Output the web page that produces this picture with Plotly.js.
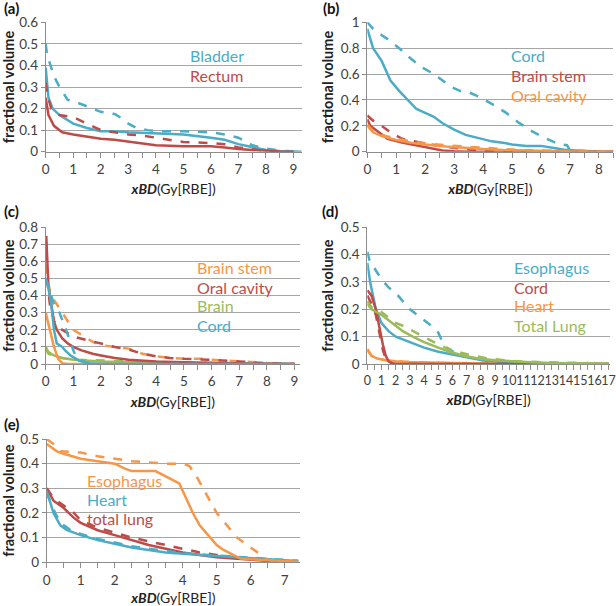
<!DOCTYPE html>
<html>
<head>
<meta charset="utf-8">
<script src="https://cdn.plot.ly/plotly-3.0.1.min.js"></script>
<style>html,body{margin:0;padding:0;background:#fff}#chart{width:616px;height:606px}</style>
</head>
<body>
<div id="chart"></div>
<script>
// ---------- Panel (a) ----------
const a_bladder_solid_x = [0, 0.05, 0.1, 0.25, 0.5, 1, 1.5, 2, 2.5, 3, 4, 5, 6, 6.5, 7, 7.5, 8, 8.5, 9, 9.3];
const a_bladder_solid_y = [0.39, 0.3, 0.25, 0.2, 0.17, 0.13, 0.11, 0.095, 0.095, 0.09, 0.085, 0.08, 0.065, 0.055, 0.035, 0.02, 0.008, 0.003, 0.001, 0];
const a_bladder_dash_x = [0, 0.05, 0.3, 0.5, 0.8, 1, 1.3, 1.7, 2, 2.5, 2.7, 3, 3.3, 3.7, 4, 5, 6, 6.5, 7, 7.5, 8, 8.5, 9, 9.3];
const a_bladder_dash_y = [0.5, 0.45, 0.35, 0.3, 0.24, 0.235, 0.22, 0.2, 0.185, 0.175, 0.16, 0.13, 0.11, 0.1, 0.095, 0.095, 0.09, 0.08, 0.065, 0.03, 0.015, 0.005, 0.001, 0];
const a_rectum_solid_x = [0, 0.1, 0.3, 0.6, 1, 1.5, 2, 2.5, 2.8, 3.2, 3.5, 4, 5, 6, 6.5, 7, 7.5, 8, 8.5, 9];
const a_rectum_solid_y = [0.25, 0.17, 0.12, 0.09, 0.08, 0.07, 0.06, 0.055, 0.05, 0.04, 0.035, 0.03, 0.025, 0.025, 0.02, 0.012, 0.008, 0.003, 0.001, 0];
const a_rectum_dash_x = [0, 0.05, 0.2, 0.5, 1, 1.5, 2, 2.5, 3, 3.5, 4, 4.5, 5, 6, 6.5, 7, 7.5, 8, 8.5];
const a_rectum_dash_y = [0.32, 0.27, 0.2, 0.17, 0.16, 0.13, 0.1, 0.09, 0.08, 0.075, 0.065, 0.055, 0.045, 0.04, 0.035, 0.02, 0.01, 0.003, 0];

// ---------- Panel (b) ----------
const b_cord_solid_x = [0, 0.2, 0.5, 0.8, 1.1, 1.4, 1.7, 2, 2.3, 2.6, 3, 3.4, 3.9, 4.3, 4.8, 5, 5.5, 6, 6.4, 6.8, 7.2, 7.5, 8, 8.5];
const b_cord_solid_y = [0.95, 0.8, 0.7, 0.55, 0.47, 0.4, 0.33, 0.3, 0.27, 0.22, 0.17, 0.13, 0.1, 0.08, 0.065, 0.055, 0.045, 0.045, 0.03, 0.015, 0.01, 0.005, 0.001, 0];
const b_cord_dash_x = [0, 0.2, 0.5, 0.7, 1.1, 1.5, 1.9, 2.3, 2.6, 2.9, 3.2, 3.5, 3.9, 4.3, 4.8, 5.2, 5.6, 6, 6.4, 6.6, 6.9, 7, 7.5, 8];
const b_cord_dash_y = [1.0, 0.95, 0.9, 0.87, 0.8, 0.72, 0.65, 0.6, 0.55, 0.5, 0.47, 0.46, 0.42, 0.37, 0.3, 0.23, 0.17, 0.12, 0.08, 0.06, 0.05, 0.01, 0.005, 0];
const b_stem_solid_x = [0, 0.1, 0.4, 0.7, 1.2, 1.7, 2.2, 2.6, 3, 3.5, 8.5];
const b_stem_solid_y = [0.25, 0.2, 0.15, 0.1, 0.07, 0.05, 0.03, 0.01, 0.003, 0, 0];
const b_stem_dash_x = [0, 0.2, 0.5, 0.8, 1.2, 1.6, 2.1, 2.6, 3.1, 3.6, 4, 4.5, 5, 8.5];
const b_stem_dash_y = [0.28, 0.24, 0.2, 0.15, 0.1, 0.08, 0.06, 0.04, 0.025, 0.015, 0.008, 0.003, 0, 0];
const b_oral_solid_x = [0, 0.2, 0.5, 1, 1.5, 2, 2.7, 3.3, 4, 4.7, 5.5, 6.2, 7, 8, 8.5];
const b_oral_solid_y = [0.2, 0.15, 0.12, 0.09, 0.07, 0.055, 0.04, 0.03, 0.02, 0.013, 0.008, 0.004, 0.002, 0, 0];
const b_oral_dash_x = [0, 0.2, 0.5, 1, 1.5, 2, 2.7, 3.3, 4, 4.7, 5.5, 6.3, 7.2, 8, 8.5];
const b_oral_dash_y = [0.21, 0.16, 0.13, 0.1, 0.08, 0.065, 0.05, 0.04, 0.03, 0.02, 0.012, 0.006, 0.003, 0, 0];

// ---------- Panel (c) ----------
const c_stem_solid_x = [0, 0.15, 0.3, 0.45, 0.6, 0.8, 9];
const c_stem_solid_y = [0.3, 0.2, 0.1, 0.03, 0.005, 0, 0];
const c_stem_dash_x = [0, 0.05, 0.2, 0.4, 0.6, 0.8, 1, 1.3, 1.7, 2, 2.5, 3, 3.2, 3.5, 4, 4.5, 5, 5.7, 6, 6.5, 7.5, 8.3, 9];
const c_stem_dash_y = [0.58, 0.5, 0.4, 0.35, 0.3, 0.25, 0.2, 0.17, 0.13, 0.11, 0.1, 0.09, 0.08, 0.06, 0.045, 0.035, 0.03, 0.03, 0.025, 0.02, 0.01, 0.003, 0];
const c_oral_solid_x = [0.02, 0.1, 0.2, 0.3, 0.4, 0.6, 0.8, 1, 1.3, 1.7, 2, 2.5, 3, 3.5, 4, 5, 6, 7, 8, 9];
const c_oral_solid_y = [0.75, 0.45, 0.35, 0.25, 0.2, 0.15, 0.12, 0.1, 0.08, 0.06, 0.05, 0.035, 0.025, 0.02, 0.015, 0.01, 0.006, 0.003, 0.001, 0];
const c_oral_dash_x = [0.05, 0.15, 0.3, 0.5, 0.8, 1, 1.5, 2, 2.5, 3, 3.5, 4, 4.5, 5, 6, 7, 8, 9];
const c_oral_dash_y = [0.5, 0.35, 0.25, 0.21, 0.18, 0.16, 0.14, 0.12, 0.1, 0.085, 0.06, 0.045, 0.035, 0.03, 0.025, 0.015, 0.005, 0];
const c_brain_solid_x = [0, 0.1, 0.3, 0.6, 1, 1.5, 2, 3, 4, 5.5, 7, 9];
const c_brain_solid_y = [0.1, 0.07, 0.05, 0.035, 0.025, 0.02, 0.015, 0.01, 0.006, 0.003, 0.001, 0];
const c_brain_dash_x = [0, 0.1, 0.4, 0.8, 1.2, 2, 3, 4, 5, 6, 7, 8, 9];
const c_brain_dash_y = [0.09, 0.06, 0.04, 0.03, 0.025, 0.02, 0.015, 0.012, 0.008, 0.005, 0.003, 0.001, 0];
const c_cord_solid_x = [0, 0.1, 0.2, 0.3, 0.4, 0.6, 0.7, 0.9, 1.1, 1.2, 1.4, 1.6, 2, 9];
const c_cord_solid_y = [0.5, 0.45, 0.35, 0.2, 0.12, 0.1, 0.08, 0.05, 0.03, 0.02, 0.01, 0.005, 0, 0];
const c_cord_dash_x = [0, 0.1, 0.3, 0.5, 0.7, 0.85, 1, 1.1, 1.3, 1.5, 2, 9];
const c_cord_dash_y = [0.5, 0.45, 0.35, 0.3, 0.22, 0.15, 0.08, 0.04, 0.02, 0.005, 0, 0];

// ---------- Panel (d) ----------
const d_eso_solid_x = [0, 0.2, 0.6, 1, 1.5, 2, 2.5, 3, 4, 5, 6, 7, 8, 9, 10, 11, 13, 17];
const d_eso_solid_y = [0.37, 0.3, 0.2, 0.15, 0.12, 0.1, 0.09, 0.08, 0.06, 0.045, 0.035, 0.025, 0.015, 0.01, 0.006, 0.004, 0.002, 0];
const d_eso_dash_x = [0, 0.2, 0.5, 1, 1.5, 2, 2.5, 3, 3.5, 4, 4.5, 5, 5.3, 5.6, 6.2, 6.8, 7.5, 8.5, 10, 12, 17];
const d_eso_dash_y = [0.41, 0.37, 0.35, 0.31, 0.28, 0.26, 0.23, 0.2, 0.18, 0.16, 0.14, 0.115, 0.08, 0.06, 0.04, 0.03, 0.02, 0.01, 0.005, 0.002, 0];
const d_cord_solid_x = [0, 0.3, 0.6, 0.9, 1.1, 1.3, 1.5, 1.8, 17];
const d_cord_solid_y = [0.27, 0.25, 0.2, 0.12, 0.07, 0.03, 0.01, 0, 0];
const d_cord_dash_x = [0, 0.3, 0.6, 0.9, 1.1, 1.3, 1.6, 2, 17];
const d_cord_dash_y = [0.25, 0.22, 0.18, 0.1, 0.05, 0.02, 0.005, 0, 0];
const d_heart_solid_x = [0, 0.3, 0.7, 1.2, 2, 3, 5, 7, 10, 17];
const d_heart_solid_y = [0.055, 0.03, 0.02, 0.015, 0.01, 0.007, 0.005, 0.003, 0.001, 0];
const d_heart_dash_x = [0, 0.3, 0.7, 1.5, 2.5, 4, 6, 10, 17];
const d_heart_dash_y = [0.05, 0.03, 0.02, 0.012, 0.008, 0.005, 0.003, 0.001, 0];
const d_lung_solid_x = [0, 0.3, 1, 1.5, 2, 2.5, 3.2, 4, 5, 5.8, 6.8, 7.8, 9, 10, 11.5, 13, 15, 17];
const d_lung_solid_y = [0.22, 0.2, 0.18, 0.16, 0.14, 0.12, 0.1, 0.08, 0.06, 0.045, 0.03, 0.02, 0.014, 0.01, 0.006, 0.004, 0.002, 0.001];
const d_lung_dash_x = [0, 0.4, 1, 1.5, 2, 2.5, 3.2, 4, 4.7, 5.5, 6.3, 7.5, 8.5, 9.5, 10.5, 12, 14, 17];
const d_lung_dash_y = [0.23, 0.2, 0.19, 0.17, 0.15, 0.14, 0.12, 0.1, 0.08, 0.06, 0.045, 0.03, 0.02, 0.015, 0.01, 0.007, 0.004, 0.002];

// ---------- Panel (e) ----------
const e_eso_solid_x = [0, 0.3, 0.5, 1, 1.5, 2, 2.3, 2.5, 3.2, 3.5, 3.9, 4.1, 4.3, 4.5, 4.8, 5, 5.2, 5.5, 5.7, 6, 6.5, 7, 7.4];
const e_eso_solid_y = [0.48, 0.45, 0.44, 0.42, 0.41, 0.4, 0.38, 0.37, 0.37, 0.35, 0.32, 0.26, 0.2, 0.15, 0.1, 0.07, 0.05, 0.03, 0.015, 0.012, 0.008, 0.004, 0.002];
const e_eso_dash_x = [0, 0.2, 0.4, 1, 1.5, 2, 2.5, 3, 3.5, 4, 4.2, 4.4, 4.6, 4.8, 5, 5.3, 5.6, 6, 6.3, 6.5, 6.7, 7, 7.4];
const e_eso_dash_y = [0.5, 0.48, 0.45, 0.445, 0.43, 0.42, 0.41, 0.405, 0.4, 0.4, 0.39, 0.35, 0.3, 0.25, 0.2, 0.15, 0.1, 0.06, 0.03, 0.01, 0.005, 0.003, 0.001];
const e_heart_solid_x = [0, 0.2, 0.4, 0.6, 1, 1.5, 2, 2.5, 3, 3.5, 4, 4.5, 5, 5.5, 6, 6.5, 7, 7.4];
const e_heart_solid_y = [0.29, 0.2, 0.15, 0.13, 0.11, 0.09, 0.075, 0.06, 0.05, 0.04, 0.035, 0.03, 0.025, 0.02, 0.015, 0.012, 0.008, 0.005];
const e_heart_dash_x = [0, 0.25, 0.4, 0.7, 1, 1.5, 2, 2.5, 3, 3.5, 4, 4.5, 5, 5.5, 6, 6.5, 7, 7.4];
const e_heart_dash_y = [0.28, 0.2, 0.16, 0.13, 0.115, 0.095, 0.08, 0.065, 0.055, 0.045, 0.037, 0.032, 0.027, 0.022, 0.018, 0.013, 0.009, 0.006];
const e_lung_solid_x = [0, 0.2, 0.5, 0.8, 1, 1.5, 2, 2.5, 3, 3.5, 4, 4.5, 5, 5.5, 6, 6.5, 7];
const e_lung_solid_y = [0.3, 0.25, 0.22, 0.18, 0.16, 0.13, 0.11, 0.09, 0.07, 0.055, 0.04, 0.03, 0.02, 0.015, 0.01, 0.005, 0.002];
const e_lung_dash_x = [0, 0.2, 0.5, 0.8, 1, 1.5, 2, 2.5, 3, 3.5, 4, 4.5, 5, 5.5, 6, 6.5, 7];
const e_lung_dash_y = [0.3, 0.26, 0.23, 0.2, 0.17, 0.14, 0.12, 0.1, 0.085, 0.07, 0.055, 0.04, 0.03, 0.02, 0.012, 0.007, 0.003];

// ---------- Styling ----------
const BLUE = '#4BACC6', RED = '#BE4B48', ORANGE = '#F79646', GREEN = '#9BBB59';
const FONT = 'Lato, "Open Sans", sans-serif';

function tr(x, y, color, dash, ax) {
  return {x: x, y: y, type: 'scatter', mode: 'lines', xaxis: 'x' + ax, yaxis: 'y' + ax,
    line: {color: color, width: 2.5, dash: dash ? 'dash' : 'solid'}, hoverinfo: 'skip', showlegend: false};
}

const data = [
  tr(a_bladder_dash_x, a_bladder_dash_y, BLUE, true, ''),
  tr(a_bladder_solid_x, a_bladder_solid_y, BLUE, false, ''),
  tr(a_rectum_dash_x, a_rectum_dash_y, RED, true, ''),
  tr(a_rectum_solid_x, a_rectum_solid_y, RED, false, ''),

  tr(b_cord_dash_x, b_cord_dash_y, BLUE, true, '2'),
  tr(b_cord_solid_x, b_cord_solid_y, BLUE, false, '2'),
  tr(b_stem_dash_x, b_stem_dash_y, RED, true, '2'),
  tr(b_stem_solid_x, b_stem_solid_y, RED, false, '2'),
  tr(b_oral_dash_x, b_oral_dash_y, ORANGE, true, '2'),
  tr(b_oral_solid_x, b_oral_solid_y, ORANGE, false, '2'),

  tr(c_brain_dash_x, c_brain_dash_y, GREEN, true, '3'),
  tr(c_brain_solid_x, c_brain_solid_y, GREEN, false, '3'),
  tr(c_stem_dash_x, c_stem_dash_y, ORANGE, true, '3'),
  tr(c_stem_solid_x, c_stem_solid_y, ORANGE, false, '3'),
  tr(c_oral_dash_x, c_oral_dash_y, RED, true, '3'),
  tr(c_oral_solid_x, c_oral_solid_y, RED, false, '3'),
  tr(c_cord_dash_x, c_cord_dash_y, BLUE, true, '3'),
  tr(c_cord_solid_x, c_cord_solid_y, BLUE, false, '3'),

  tr(d_heart_dash_x, d_heart_dash_y, ORANGE, true, '4'),
  tr(d_heart_solid_x, d_heart_solid_y, ORANGE, false, '4'),
  tr(d_eso_dash_x, d_eso_dash_y, BLUE, true, '4'),
  tr(d_eso_solid_x, d_eso_solid_y, BLUE, false, '4'),
  tr(d_cord_dash_x, d_cord_dash_y, RED, true, '4'),
  tr(d_cord_solid_x, d_cord_solid_y, RED, false, '4'),
  tr(d_lung_dash_x, d_lung_dash_y, GREEN, true, '4'),
  tr(d_lung_solid_x, d_lung_solid_y, GREEN, false, '4'),

  tr(e_lung_dash_x, e_lung_dash_y, RED, true, '5'),
  tr(e_lung_solid_x, e_lung_solid_y, RED, false, '5'),
  tr(e_heart_dash_x, e_heart_dash_y, BLUE, true, '5'),
  tr(e_heart_solid_x, e_heart_solid_y, BLUE, false, '5'),
  tr(e_eso_dash_x, e_eso_dash_y, ORANGE, true, '5'),
  tr(e_eso_solid_x, e_eso_solid_y, ORANGE, false, '5')
];

const W = 616, H = 606;
function px(v) { return v / W; }
function py(v) { return 1 - v / H; }

const XTITLE = '<b><i>xBD</i></b>(Gy[RBE])';
function xax(x0, x1, range, anchor, fs) {
  return {domain: [px(x0), px(x1)], range: range, anchor: anchor, dtick: 1, tick0: 0, tickangle: 0,
    ticklabeloverflow: 'allow',
    showgrid: false, zeroline: false, showline: true, linecolor: '#8c8c8c', linewidth: 1,
    ticks: 'outside', ticklen: 5, tickcolor: '#8c8c8c',
    minor: {dtick: 0.5, ticks: 'outside', ticklen: 5, tickcolor: '#8c8c8c', showgrid: false},
    tickfont: {family: FONT, size: fs || 13.5, color: '#404040'},
    title: {text: XTITLE, font: {family: FONT, size: 14, color: '#222'}, standoff: 8},
    fixedrange: true, automargin: false};
}
function yax(y0, y1, range, dtick, anchor) {
  return {domain: [py(y1), py(y0)], range: range, anchor: anchor, dtick: dtick, tick0: 0,
    showgrid: true, gridcolor: '#a6a6a6', gridwidth: 1, zeroline: false,
    showline: true, linecolor: '#8c8c8c', linewidth: 1,
    ticks: 'outside', ticklen: 4, tickcolor: '#8c8c8c',
    tickfont: {family: FONT, size: 13.5, color: '#404040'},
    title: {text: '<b>fractional volume</b>', font: {family: FONT, size: 14.5, color: '#222'}, standoff: 3},
    fixedrange: true, automargin: false};
}

function lab(text, color, x, y, xref, yref) {
  return {text: text, x: x, y: y, xref: xref, yref: yref, xanchor: 'left', yanchor: 'middle',
    showarrow: false, font: {family: FONT, size: 16, color: color}};
}
function panel(text, x, y) {
  return {text: '<b>' + text + '</b>', x: px(x), y: py(y), xref: 'paper', yref: 'paper',
    xanchor: 'left', yanchor: 'middle', showarrow: false, font: {family: FONT, size: 15, color: '#111'}};
}

const annotations = [
  panel('(a)', 2, 8), panel('(b)', 321, 8), panel('(c)', 2, 211), panel('(d)', 320, 211), panel('(e)', 2, 424)
];
const labels = [
  ['Bladder', BLUE, 188, 55.7], ['Rectum', RED, 188, 75.7],
  ['Cord', BLUE, 509, 55.7], ['Brain stem', RED, 509, 75.5], ['Oral cavity', ORANGE, 509, 95],
  ['Brain stem', ORANGE, 195, 267.7], ['Oral cavity', RED, 195, 287.3], ['Brain', GREEN, 195, 305.7], ['Cord', BLUE, 195, 325],
  ['Esophagus', BLUE, 511.5, 267.3], ['Cord', RED, 511.5, 287.3], ['Heart', ORANGE, 511.5, 305.7], ['Total Lung', GREEN, 511.5, 325],
  ['Esophagus', ORANGE, 85, 480], ['Heart', BLUE, 85, 499.3], ['total lung', RED, 85, 518.3]
];
labels.forEach(function (l) { annotations.push(lab(l[0], l[1], px(l[2]), py(l[3]), 'paper', 'paper')); });

const layout = {
  width: W, height: H, margin: {l: 0, r: 0, t: 0, b: 0},
  paper_bgcolor: '#fff', plot_bgcolor: '#fff', showlegend: false,
  font: {family: FONT},
  xaxis: xax(45.7, 301.7, [0, 9.3], 'y'),
  yaxis: yax(22.3, 151.7, [0, 0.6], 0.1, 'x'),
  xaxis2: xax(367.3, 613.3, [0, 8.5], 'y2'),
  yaxis2: yax(22.3, 151.7, [0, 1], 0.2, 'x2'),
  xaxis3: xax(45.7, 300, [0, 9.2], 'y3'),
  yaxis3: yax(227.3, 364, [0, 0.8], 0.1, 'x3'),
  xaxis4: xax(367.3, 610, [0, 17.1], 'y4', 12.5),
  yaxis4: yax(227.3, 364, [0, 0.5], 0.1, 'x4'),
  xaxis5: xax(46.7, 300, [0, 7.45], 'y5'),
  yaxis5: yax(439, 562.3, [0, 0.5], 0.1, 'x5'),
  annotations: annotations
};

Plotly.newPlot('chart', data, layout, {staticPlot: true, displayModeBar: false});
</script>
</body>
</html>
